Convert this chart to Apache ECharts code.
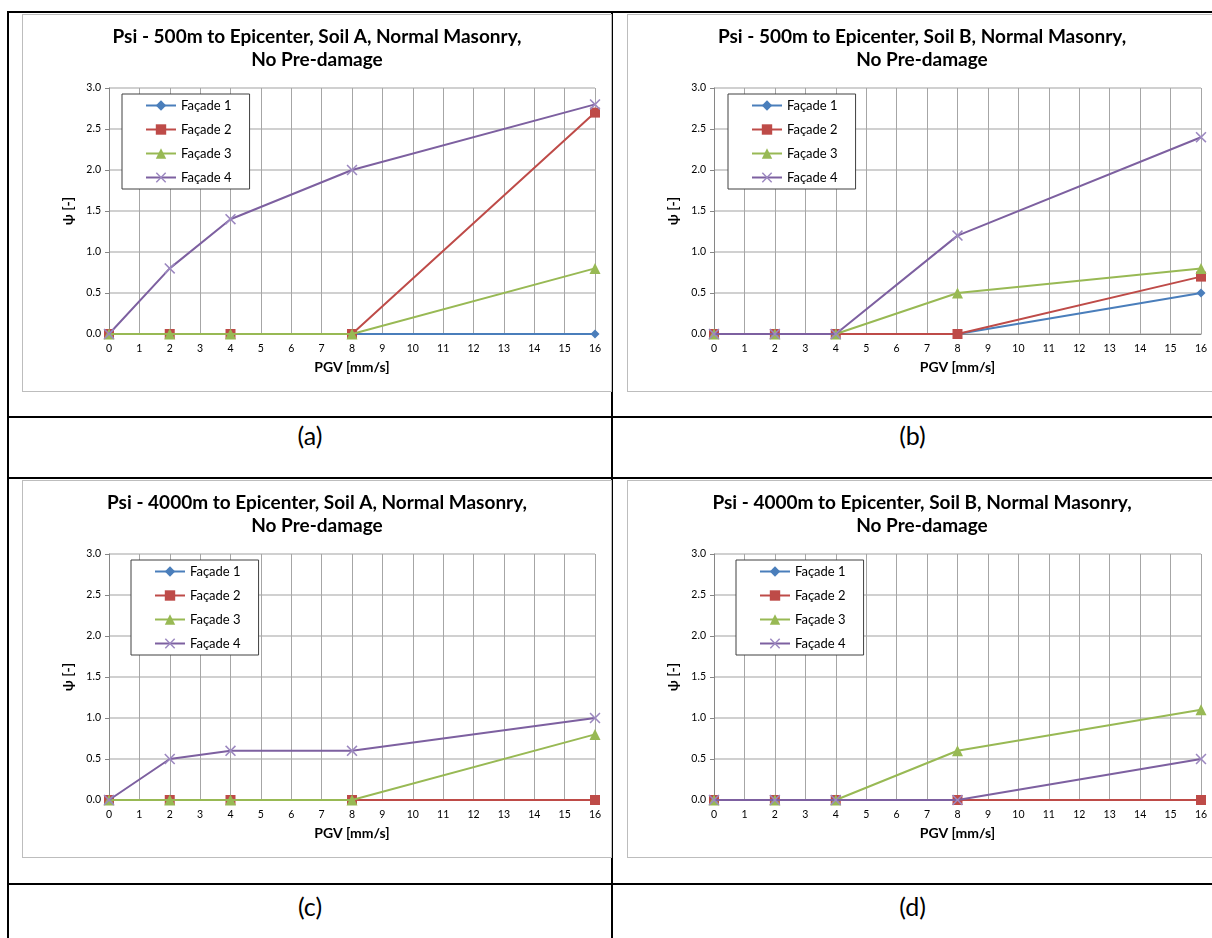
<!DOCTYPE html>
<html>
<head>
<meta charset="utf-8">
<script src="https://cdn.jsdelivr.net/npm/echarts@6/dist/echarts.min.js"></script>
<style>
  html, body { margin: 0; padding: 0; background: #fff; width: 1212px; height: 938px; overflow: hidden; }
  .hl { position: absolute; background: #000; height: 2px; }
  .vl { position: absolute; background: #000; width: 2px; }
  .chart { position: absolute; border: 1px solid #bdbdbd; box-sizing: border-box; background: #fff; }
  .cap { position: absolute; font-family: Lato, "Open Sans", sans-serif; font-size: 25px; color: #000; text-align: center; }
</style>
</head>
<body>
<div class="hl" style="left:7px; top:11px; width:1205px;"></div>
<div class="hl" style="left:7px; top:416px; width:1205px;"></div>
<div class="hl" style="left:7px; top:477px; width:1205px;"></div>
<div class="hl" style="left:7px; top:883px; width:1205px;"></div>
<div class="vl" style="left:7px; top:11px; height:927px;"></div>
<div class="vl" style="left:611px; top:11px; height:927px;"></div>

<div id="ca" class="chart" style="left:22px; top:14px; width:590px; height:378px;"></div>
<div id="cb" class="chart" style="left:627px; top:14px; width:590px; height:378px;"></div>
<div id="cc" class="chart" style="left:22px; top:480px; width:590px; height:378px;"></div>
<div id="cd" class="chart" style="left:627px; top:480px; width:590px; height:378px;"></div>

<div class="cap" style="left:9px; top:420px; width:602px;">(a)</div>
<div class="cap" style="left:613px; top:420px; width:599px;">(b)</div>
<div class="cap" style="left:9px; top:891px; width:602px;">(c)</div>
<div class="cap" style="left:613px; top:891px; width:599px;">(d)</div>

<script>
// ---- data ----
const pgv = [0, 2, 4, 8, 16];
const seriesNames = ["Façade 1", "Façade 2", "Façade 3", "Façade 4"];
const xTicks = [0, 16, 1];     // min, max, interval
const yTicks = [0, 3, 0.5];

const titleA = "Psi - 500m to Epicenter, Soil A, Normal Masonry,\nNo Pre-damage";
const a_f1 = [0, 0, 0, 0, 0];
const a_f2 = [0, 0, 0, 0, 2.7];
const a_f3 = [0, 0, 0, 0, 0.8];
const a_f4 = [0, 0.8, 1.4, 2.0, 2.8];

const titleB = "Psi - 500m to Epicenter, Soil B, Normal Masonry,\nNo Pre-damage";
const b_f1 = [0, 0, 0, 0, 0.5];
const b_f2 = [0, 0, 0, 0, 0.7];
const b_f3 = [0, 0, 0, 0.5, 0.8];
const b_f4 = [0, 0, 0, 1.2, 2.4];

const titleC = "Psi - 4000m to Epicenter, Soil A, Normal Masonry,\nNo Pre-damage";
const c_f1 = [0, 0, 0, 0, 0];
const c_f2 = [0, 0, 0, 0, 0];
const c_f3 = [0, 0, 0, 0, 0.8];
const c_f4 = [0, 0.5, 0.6, 0.6, 1.0];

const titleD = "Psi - 4000m to Epicenter, Soil B, Normal Masonry,\nNo Pre-damage";
const d_f1 = [0, 0, 0, 0, 0];
const d_f2 = [0, 0, 0, 0, 0];
const d_f3 = [0, 0, 0, 0.6, 1.1];
const d_f4 = [0, 0, 0, 0, 0.5];

const xName = "PGV [mm/s]";
const yName = "ψ [-]";

// ---- styling ----
const FONT = 'Lato, "Open Sans", sans-serif';
const colors = ["#4A7EBB", "#BE4B48", "#98B954", "#7D60A0"];
const markColors = ["#4A7EBB", "#BE4B48", "#98B954", "#9C88C0"];
const crossPath = 'path://M0,1 L1,0 L5,4 L9,0 L10,1 L6,5 L10,9 L9,10 L5,6 L1,10 L0,9 L4,5 Z';
const symbols = ["diamond", "rect", "triangle", crossPath];
const symSizes = [9, 10, 11, 11];

function makeOption(title, vals, legendLeft, gridRight) {
  return {
    animation: false,
    textStyle: { fontFamily: FONT },
    title: {
      text: title, left: 'center', top: 5,
      textStyle: { fontFamily: FONT, fontSize: 19, fontWeight: 'bold', color: '#000', lineHeight: 23 }
    },
    legend: {
      orient: 'vertical', left: legendLeft, top: 79,
      data: seriesNames,
      backgroundColor: '#fff', borderColor: '#404040', borderWidth: 1,
      padding: [5, 18, 5, 23], itemGap: 11, itemWidth: 30, itemHeight: 13,
      textStyle: { fontFamily: FONT, fontSize: 13, color: '#000' }
    },
    grid: { left: 86, right: gridRight, top: 73, bottom: 378 - 319 - 2 },
    xAxis: {
      type: 'value', min: xTicks[0], max: xTicks[1], interval: xTicks[2],
      name: xName, nameLocation: 'middle', nameGap: 26,
      nameTextStyle: { fontFamily: FONT, fontSize: 14, fontWeight: 'bold', color: '#000' },
      axisLine: { show: true, onZero: false, lineStyle: { color: '#868686', width: 1 } },
      axisTick: { show: false },
      axisLabel: { fontFamily: FONT, fontSize: 10.5, color: '#000', margin: 9 },
      splitLine: { show: true, lineStyle: { color: '#a6a6a6', width: 1 } }
    },
    yAxis: {
      type: 'value', min: yTicks[0], max: yTicks[1], interval: yTicks[2],
      name: yName, nameLocation: 'middle', nameGap: 33, nameRotate: 90,
      nameTextStyle: { fontFamily: FONT, fontSize: 14, fontWeight: 'bold', color: '#000' },
      axisLine: { show: true, lineStyle: { color: '#868686', width: 1 } },
      axisTick: { show: true, length: 4, lineStyle: { color: '#868686' } },
      axisLabel: { fontFamily: FONT, fontSize: 10.5, color: '#000', margin: 8, formatter: v => v.toFixed(1) },
      splitLine: { show: true, lineStyle: { color: '#c0c0c0', width: 1.5 } }
    },
    series: vals.map((arr, i) => ({
      name: seriesNames[i], type: 'line',
      data: pgv.map((x, j) => [x, arr[j]]),
      symbol: symbols[i], symbolSize: symSizes[i], showSymbol: true,
      lineStyle: { color: colors[i], width: 2 },
      itemStyle: { color: markColors[i], borderWidth: 0 },
      z: 2 + i
    }))
  };
}

const configs = [
  ["ca", titleA, [a_f1, a_f2, a_f3, a_f4], 99, 16],
  ["cb", titleB, [b_f1, b_f2, b_f3, b_f4], 100, 15],
  ["cc", titleC, [c_f1, c_f2, c_f3, c_f4], 108, 16],
  ["cd", titleD, [d_f1, d_f2, d_f3, d_f4], 108, 15]
];
configs.forEach(c => {
  const ch = echarts.init(document.getElementById(c[0]), null, { renderer: 'canvas' });
  ch.setOption(makeOption(c[1], c[2], c[3], c[4]));
});
</script>
</body>
</html>
